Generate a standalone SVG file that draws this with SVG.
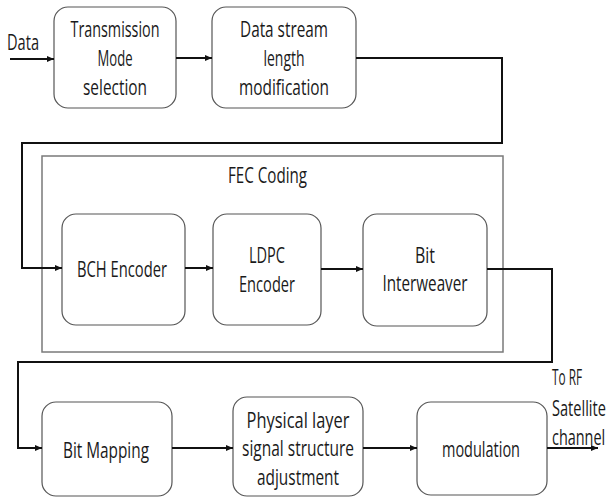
<svg xmlns="http://www.w3.org/2000/svg" width="613" height="497" viewBox="0 0 613 497">
  <defs>
    <marker id="arrow" markerUnits="userSpaceOnUse" markerWidth="8" markerHeight="8" refX="7" refY="4" orient="auto">
      <path d="M0,1 L7,4 L0,7 Z" fill="#111"/>
    </marker>
  </defs>
  <style>
    .box { fill: #fff; stroke: #555; stroke-width: 1.2; }
    .group { fill: none; stroke: #7a7a7a; stroke-width: 1.5; }
    .lbl { font-family: "Open Sans", "Liberation Sans", sans-serif; font-size: 22px; fill: #1a1a1a; text-anchor: middle; }
    .lbl-l { font-family: "Open Sans", "Liberation Sans", sans-serif; font-size: 22px; fill: #1a1a1a; text-anchor: start; }
    .wire { fill: none; stroke: #111; stroke-width: 2; }
  </style>
  <rect width="613" height="497" fill="#fff"/>

  <!-- FEC coding enclosure -->
  <g id="fec-coding">
    <rect class="group" x="42" y="156" width="461" height="196"/>
    <text class="lbl" x="267.5" y="183" textLength="79" lengthAdjust="spacingAndGlyphs">FEC Coding</text>
  </g>

  <!-- processing blocks -->
  <g id="mode-selection">
    <rect class="box" x="54" y="7" width="122" height="101" rx="14"/>
    <text class="lbl" x="115" y="37" textLength="89" lengthAdjust="spacingAndGlyphs">Transmission</text>
    <text class="lbl" x="115" y="66" textLength="35" lengthAdjust="spacingAndGlyphs">Mode</text>
    <text class="lbl" x="115" y="95" textLength="64" lengthAdjust="spacingAndGlyphs">selection</text>
  </g>
  <g id="length-modification">
    <rect class="box" x="212" y="7" width="144" height="101" rx="14"/>
    <text class="lbl" x="284" y="37" textLength="88" lengthAdjust="spacingAndGlyphs">Data stream</text>
    <text class="lbl" x="284" y="66" textLength="41" lengthAdjust="spacingAndGlyphs">length</text>
    <text class="lbl" x="284" y="95" textLength="90" lengthAdjust="spacingAndGlyphs">modification</text>
  </g>
  <g id="bch-encoder">
    <rect class="box" x="62" y="214" width="123" height="111" rx="14"/>
    <text class="lbl" x="122" y="277" textLength="90" lengthAdjust="spacingAndGlyphs">BCH Encoder</text>
  </g>
  <g id="ldpc-encoder">
    <rect class="box" x="213" y="214" width="108" height="111" rx="14"/>
    <text class="lbl" x="267" y="263" textLength="36" lengthAdjust="spacingAndGlyphs">LDPC</text>
    <text class="lbl" x="267" y="292" textLength="56" lengthAdjust="spacingAndGlyphs">Encoder</text>
  </g>
  <g id="bit-interweaver">
    <rect class="box" x="363" y="214" width="124" height="112" rx="14"/>
    <text class="lbl" x="425" y="263" textLength="20" lengthAdjust="spacingAndGlyphs">Bit</text>
    <text class="lbl" x="425" y="291" textLength="85" lengthAdjust="spacingAndGlyphs">Interweaver</text>
  </g>
  <g id="bit-mapping">
    <rect class="box" x="42" y="402" width="130" height="94" rx="14"/>
    <text class="lbl" x="106" y="458" textLength="86" lengthAdjust="spacingAndGlyphs">Bit Mapping</text>
  </g>
  <g id="physical-layer">
    <rect class="box" x="233" y="397" width="130" height="99" rx="14"/>
    <text class="lbl" x="298" y="428" textLength="103" lengthAdjust="spacingAndGlyphs">Physical layer</text>
    <text class="lbl" x="298" y="456" textLength="112" lengthAdjust="spacingAndGlyphs">signal structure</text>
    <text class="lbl" x="298" y="485" textLength="82" lengthAdjust="spacingAndGlyphs">adjustment</text>
  </g>
  <g id="modulation">
    <rect class="box" x="417" y="402" width="130" height="93" rx="14"/>
    <text class="lbl" x="481" y="457" textLength="78" lengthAdjust="spacingAndGlyphs">modulation</text>
  </g>

  <!-- input / output labels -->
  <g id="input-label">
    <text class="lbl-l" x="7" y="50" textLength="32" lengthAdjust="spacingAndGlyphs">Data</text>
  </g>
  <!-- narrow output caption: condensed horizontally to fit the right margin -->
  <g id="output-label" transform="translate(552 0) scale(0.7 1)">
    <text class="lbl-l" x="0" y="385" textLength="43" lengthAdjust="spacingAndGlyphs">To RF</text>
    <text class="lbl-l" x="0" y="416" textLength="77" lengthAdjust="spacingAndGlyphs">Satellite</text>
    <text class="lbl-l" x="0" y="445" textLength="76" lengthAdjust="spacingAndGlyphs">channel</text>
  </g>

  <!-- signal flow -->
  <g id="connectors">
    <path class="wire" d="M10 59 H54" marker-end="url(#arrow)"/>
    <path class="wire" d="M176 58 H212" marker-end="url(#arrow)"/>
    <path class="wire" d="M356 58 H502 V143 H22 V268 H62" marker-end="url(#arrow)"/>
    <path class="wire" d="M185 268 H213" marker-end="url(#arrow)"/>
    <path class="wire" d="M321 269 H363" marker-end="url(#arrow)"/>
    <path class="wire" d="M487 269 H552 V362 H18 V448 H42" marker-end="url(#arrow)"/>
    <path class="wire" d="M172 448 H233" marker-end="url(#arrow)"/>
    <path class="wire" d="M363 448 H417" marker-end="url(#arrow)"/>
    <path class="wire" d="M547 448 H598" marker-end="url(#arrow)"/>
  </g>
</svg>
